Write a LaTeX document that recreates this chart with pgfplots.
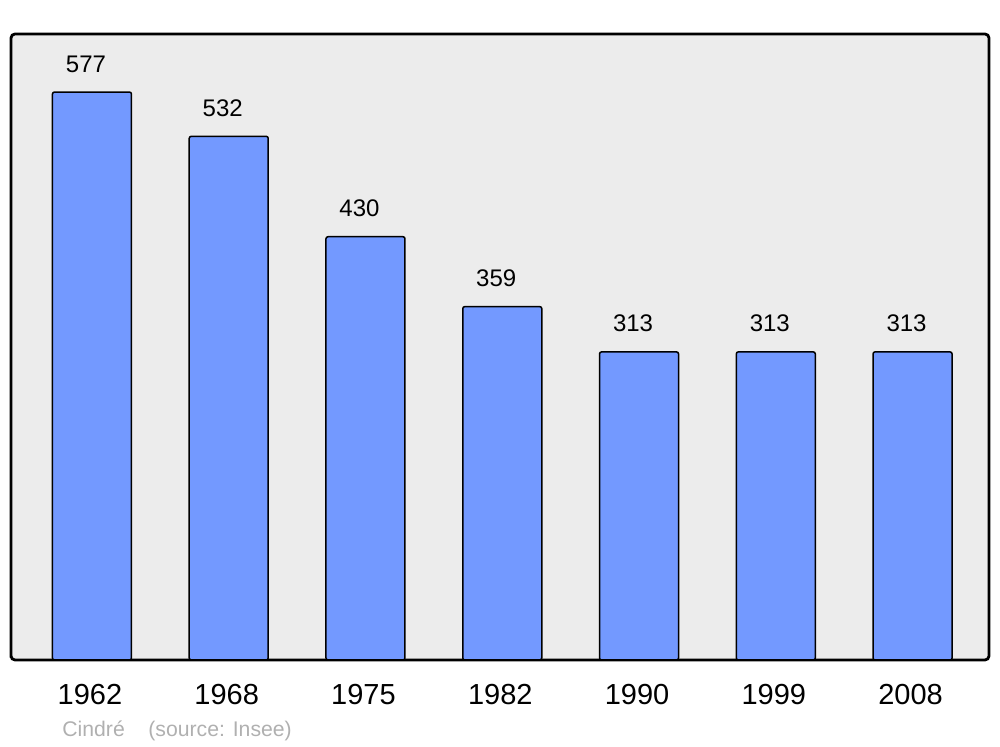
\documentclass[border=0pt]{standalone}
\usepackage{pgfplots}
\pgfplotsset{compat=1.18}
\usepackage{fontspec}
\setmainfont{Liberation Sans}
\definecolor{barblue}{RGB}{115,153,255}
\definecolor{bg}{RGB}{236,236,236}
\definecolor{foot}{RGB}{176,176,176}
\begin{document}
\begin{tikzpicture}[x=1pt,y=1pt]
\path (0,0) rectangle (500,373.5);
\begin{axis}[at={(5.5pt,43.5pt)}, anchor=south west, scale only axis,
  width=489pt, height=313pt,
  xmin=-0.592, xmax=6.559, ymin=0, ymax=636,
  axis background/.style={fill=bg},
  axis line style={line width=1.4pt, rounded corners=2pt},
  ytick=\empty, xtick=data,
  xticklabels={1962,1968,1975,1982,1990,1999,2008},
  major tick length=0pt,
  xticklabel style={font=\fontsize{14.5}{16}\selectfont, anchor=base, inner sep=0pt, yshift=-22.5pt, xshift=-1pt},
  /pgf/number format/assume math mode=true,
  ybar, bar width=39.5pt, bar shift=0pt,
  nodes near coords,
  nodes near coords style={font=\fontsize{12}{14}\selectfont, anchor=south, inner sep=0pt, yshift=9.5pt, xshift=-3pt},
  clip=false]
\addplot[fill=barblue, draw=black, line width=0.75pt, rounded corners=1pt] coordinates {(0,577)(1,532)(2,430)(3,359)(4,313)(5,313)(6,313)};
\end{axis}
\node[anchor=base west, inner sep=0pt, text=foot, font=\fontsize{10.6}{12}\selectfont] at (31pt,5pt) {Cindré};
\node[anchor=base west, inner sep=0pt, text=foot, font=\fontsize{10.6}{12}\selectfont] at (74pt,5pt) {(source: Insee)};
\end{tikzpicture}
\end{document}
